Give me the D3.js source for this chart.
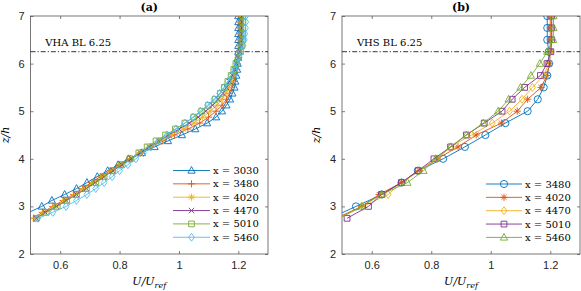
<!DOCTYPE html>
<html>
<head>
<meta charset="utf-8">
<script src="https://cdn.jsdelivr.net/npm/d3@7"></script>
<style>
  body { margin: 0; background: #fff; }
  svg { display: block; }
</style>
</head>
<body>
<div id="chart"></div>
<script>
const width = 581;
const height = 291;

// panel (a): VHA
const zA = [2.75, 2.875, 3, 3.125, 3.25, 3.375, 3.5, 3.625, 3.75, 3.875, 4, 4.125, 4.25, 4.375, 4.5, 4.625, 4.75, 4.875, 5,
  5.125, 5.25, 5.375, 5.5, 5.625, 5.75, 5.875, 6, 6.125, 6.25, 6.375, 6.5, 6.625, 6.75, 6.875, 7];
const uA3030 = [0.45, 0.495, 0.538, 0.572, 0.615, 0.655, 0.69, 0.725, 0.76, 0.795, 0.83, 0.875, 0.918, 0.963, 1.01, 1.055, 1.095, 1.125, 1.145,
  1.16, 1.172, 1.18, 1.187, 1.19, 1.193, 1.196, 1.198, 1.199, 1.2, 1.2, 1.2, 1.2, 1.2, 1.2, 1.2];
const uA3480 = [0.51, 0.54, 0.575, 0.61, 0.645, 0.675, 0.705, 0.735, 0.77, 0.8, 0.835, 0.87, 0.905, 0.945, 0.985, 1.03, 1.07, 1.1, 1.125,
  1.145, 1.16, 1.17, 1.178, 1.185, 1.19, 1.194, 1.197, 1.2, 1.203, 1.204, 1.205, 1.205, 1.205, 1.205, 1.205];
const uA4020 = [0.515, 0.545, 0.582, 0.615, 0.65, 0.68, 0.712, 0.742, 0.775, 0.805, 0.838, 0.87, 0.903, 0.938, 0.975, 1.015, 1.05, 1.08, 1.105,
  1.128, 1.145, 1.158, 1.168, 1.177, 1.185, 1.19, 1.195, 1.2, 1.205, 1.208, 1.21, 1.21, 1.21, 1.21, 1.21];
const uA4470 = [0.52, 0.55, 0.588, 0.62, 0.655, 0.688, 0.718, 0.748, 0.778, 0.808, 0.84, 0.87, 0.9, 0.932, 0.965, 1.0, 1.035, 1.065, 1.09,
  1.113, 1.132, 1.148, 1.16, 1.17, 1.18, 1.188, 1.194, 1.2, 1.206, 1.21, 1.212, 1.212, 1.212, 1.212, 1.212];
const uA5010 = [0.52, 0.553, 0.59, 0.622, 0.655, 0.688, 0.72, 0.748, 0.776, 0.805, 0.835, 0.865, 0.893, 0.923, 0.955, 0.988, 1.02, 1.05, 1.077,
  1.1, 1.122, 1.14, 1.153, 1.165, 1.176, 1.185, 1.192, 1.2, 1.207, 1.212, 1.215, 1.215, 1.215, 1.215, 1.215];
const uA5460 = [0.525, 0.575, 0.62, 0.655, 0.69, 0.72, 0.748, 0.775, 0.8, 0.828, 0.855, 0.88, 0.905, 0.932, 0.96, 0.99, 1.02, 1.047, 1.072,
  1.096, 1.118, 1.137, 1.152, 1.165, 1.177, 1.187, 1.195, 1.203, 1.21, 1.216, 1.22, 1.222, 1.224, 1.225, 1.225];

// panel (b): VHS
const zB = [2.75, 3, 3.25, 3.5, 3.75, 4, 4.25, 4.5, 4.75, 5, 5.25, 5.5, 5.75, 6, 6.25, 6.5, 6.75, 7];
const uB3480 = [0.46, 0.547, 0.634, 0.7, 0.755, 0.84, 0.913, 0.982, 1.049, 1.124, 1.158, 1.178, 1.19, 1.196, 1.195, 1.19, 1.19, 1.19];
const uB4020 = [0.48, 0.566, 0.625, 0.7, 0.76, 0.82, 0.89, 0.951, 1.036, 1.089, 1.124, 1.169, 1.189, 1.198, 1.2, 1.2, 1.2, 1.2];
const uB4470 = [0.49, 0.57, 0.655, 0.7, 0.76, 0.82, 0.865, 0.935, 1.005, 1.063, 1.105, 1.14, 1.178, 1.195, 1.2, 1.203, 1.203, 1.203];
const uB5010 = [0.517, 0.589, 0.633, 0.7, 0.756, 0.809, 0.865, 0.918, 0.978, 1.038, 1.072, 1.114, 1.167, 1.189, 1.202, 1.205, 1.205, 1.205];
const uB5460 = [0.49, 0.566, 0.633, 0.72, 0.774, 0.815, 0.865, 0.918, 0.975, 1.025, 1.06, 1.1, 1.135, 1.165, 1.19, 1.21, 1.211, 1.211];

const xTicks = [0.6, 0.8, 1, 1.2];
const yTicks = [2, 3, 4, 5, 6, 7];
const blHeight = 6.25;

const colors = ['#0072BD', '#D95319', '#EDB120', '#7E2F8E', '#77AC30', '#4DBEEE'];

const panels = [
  {
    id: 'a', title: '(a)', note: 'VHA BL 6.25', left: 30.5, right: 268, z: zA,
    series: [
      { name: 'x = 3030', u: uA3030, color: colors[0], marker: 'triangle' },
      { name: 'x = 3480', u: uA3480, color: colors[1], marker: 'plus' },
      { name: 'x = 4020', u: uA4020, color: colors[2], marker: 'asterisk' },
      { name: 'x = 4470', u: uA4470, color: colors[3], marker: 'cross' },
      { name: 'x = 5010', u: uA5010, color: colors[4], marker: 'square' },
      { name: 'x = 5460', u: uA5460, color: colors[5], marker: 'diamond' }
    ],
    legend: { x0: 173, x1: 210, top: 170.5 }
  },
  {
    id: 'b', title: '(b)', note: 'VHS BL 6.25', left: 342, right: 580, z: zB,
    series: [
      { name: 'x = 3480', u: uB3480, color: colors[0], marker: 'circle' },
      { name: 'x = 4020', u: uB4020, color: colors[1], marker: 'asterisk' },
      { name: 'x = 4470', u: uB4470, color: colors[2], marker: 'diamond' },
      { name: 'x = 5010', u: uB5010, color: colors[3], marker: 'square' },
      { name: 'x = 5460', u: uB5460, color: colors[4], marker: 'triangle' }
    ],
    legend: { x0: 486, x1: 522, top: 184 }
  }
];

const plotTop = 16, plotBottom = 254;
const serif = '"DejaVu Serif", "Liberation Serif", serif';
const sans = 'Helvetica, Arial, "Liberation Sans", sans-serif';

const markerPath = (type) => {
  const s = 3.6;
  switch (type) {
    case 'triangle': return `M0,${-s * 1.1}L${s},${s * 0.75}L${-s},${s * 0.75}Z`;
    case 'plus': return `M${-s},0H${s}M0,${-s}V${s}`;
    case 'cross': return `M${-s * 0.75},${-s * 0.75}L${s * 0.75},${s * 0.75}M${-s * 0.75},${s * 0.75}L${s * 0.75},${-s * 0.75}`;
    case 'asterisk': return `M${-s},0H${s}M0,${-s}V${s}M${-s * 0.7},${-s * 0.7}L${s * 0.7},${s * 0.7}M${-s * 0.7},${s * 0.7}L${s * 0.7},${-s * 0.7}`;
    case 'square': return `M${-s * 0.8},${-s * 0.8}H${s * 0.8}V${s * 0.8}H${-s * 0.8}Z`;
    case 'diamond': return `M0,${-s * 1.1}L${s * 0.8},0L0,${s * 1.1}L${-s * 0.8},0Z`;
    case 'circle': return `M${s},0A${s},${s} 0 1,1 ${-s},0A${s},${s} 0 1,1 ${s},0Z`;
  }
};

const svg = d3.select('#chart').append('svg')
  .attr('width', width)
  .attr('height', height)
  .attr('viewBox', `0 0 ${width} ${height}`);

panels.forEach(p => {
  const x = d3.scaleLinear().domain([0.5, 1.3]).range([p.left, p.right]);
  const y = d3.scaleLinear().domain([2, 7]).range([plotBottom, plotTop]);
  const g = svg.append('g');

  g.append('clipPath').attr('id', 'clip' + p.id)
    .append('rect')
    .attr('x', p.left).attr('y', plotTop)
    .attr('width', p.right - p.left).attr('height', plotBottom - plotTop);

  // axes with ticks on all four sides (inward)
  const axisColor = '#262626';
  g.append('g').attr('transform', `translate(0,${plotBottom})`)
    .call(d3.axisBottom(x).tickValues(xTicks).tickSize(-3).tickPadding(7).tickFormat(d3.format('~g')));
  g.append('g').attr('transform', `translate(0,${plotTop})`)
    .call(d3.axisTop(x).tickValues(xTicks).tickSize(-3).tickFormat(''));
  g.append('g').attr('transform', `translate(${p.left},0)`)
    .call(d3.axisLeft(y).tickValues(yTicks).tickSize(-3).tickPadding(6).tickFormat(d3.format('d')));
  g.append('g').attr('transform', `translate(${p.right},0)`)
    .call(d3.axisRight(y).tickValues(yTicks).tickSize(-3).tickFormat(''));
  g.selectAll('.domain').attr('stroke', 'none');
  g.selectAll('.tick line').attr('stroke', axisColor).attr('stroke-width', 0.6);
  g.selectAll('.tick text').attr('fill', axisColor).style('font-family', sans).style('font-size', '11px');

  g.append('rect')
    .attr('x', p.left).attr('y', plotTop)
    .attr('width', p.right - p.left).attr('height', plotBottom - plotTop)
    .attr('fill', 'none').attr('stroke', '#555').attr('stroke-width', 0.8);

  // boundary layer height
  g.append('line')
    .attr('x1', p.left).attr('x2', p.right)
    .attr('y1', y(blHeight)).attr('y2', y(blHeight))
    .attr('stroke', 'black').attr('stroke-width', 0.8)
    .attr('stroke-dasharray', '5,2,1.2,2');
  g.append('text')
    .attr('x', x(0.55)).attr('y', y(6.37))
    .style('font-family', serif).style('font-size', '10px')
    .text(p.note);

  const plot = g.append('g').attr('clip-path', `url(#clip${p.id})`);
  const line = d3.line().x(d => x(d[0])).y(d => y(d[1]));

  p.series.forEach(s => {
    const pts = s.u.map((u, i) => [u, p.z[i]]);
    plot.append('path')
      .attr('d', line(pts))
      .attr('fill', 'none').attr('stroke', s.color).attr('stroke-width', 0.9);
    plot.selectAll(null).data(pts.filter(d => d[0] >= 0.5)).join('path')
      .attr('transform', d => `translate(${x(d[0])},${y(d[1])})`)
      .attr('d', markerPath(s.marker))
      .attr('fill', 'none').attr('stroke', s.color).attr('stroke-width', 0.9);
  });

  // legend
  const lg = g.append('g');
  p.series.forEach((s, i) => {
    const ly = p.legend.top + i * 13.35;
    const mx = (p.legend.x0 + p.legend.x1) / 2;
    lg.append('line')
      .attr('x1', p.legend.x0).attr('x2', p.legend.x1)
      .attr('y1', ly).attr('y2', ly)
      .attr('stroke', s.color).attr('stroke-width', 0.9);
    lg.append('path')
      .attr('transform', `translate(${mx},${ly})`)
      .attr('d', markerPath(s.marker))
      .attr('fill', 'none').attr('stroke', s.color).attr('stroke-width', 0.9);
    lg.append('text')
      .attr('x', p.legend.x1 + 3).attr('y', ly + 3.5)
      .style('font-family', serif).style('font-size', '10px')
      .text(s.name);
  });

  // titles and labels
  const cx = (p.left + p.right) / 2;
  g.append('text')
    .attr('x', cx).attr('y', 11)
    .attr('text-anchor', 'middle')
    .style('font-family', serif).style('font-size', '11px').style('font-weight', 'bold')
    .text(p.title);

  const xl = g.append('text')
    .attr('x', cx).attr('y', 285)
    .attr('text-anchor', 'middle')
    .style('font-family', serif).style('font-size', '11px').style('font-style', 'italic');
  xl.append('tspan').text('U/U');
  xl.append('tspan').attr('dy', 2.5).style('font-size', '8px').text('ref');

  g.append('text')
    .attr('transform', `translate(${p.left - 22},${(plotTop + plotBottom) / 2}) rotate(-90)`)
    .attr('text-anchor', 'middle')
    .style('font-family', serif).style('font-size', '11px').style('font-style', 'italic')
    .text('z/h');
});
</script>
</body>
</html>
